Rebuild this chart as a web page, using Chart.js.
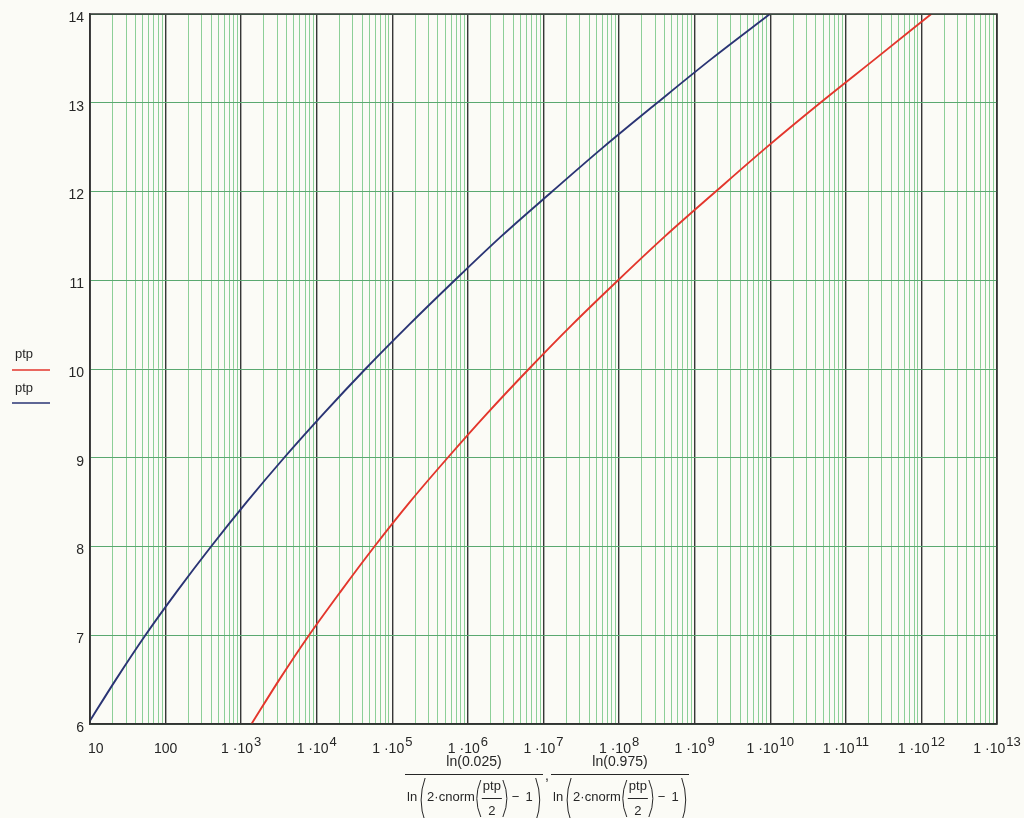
<!DOCTYPE html>
<html>
<head>
<meta charset="utf-8">
<script src="https://cdn.jsdelivr.net/npm/chart.js@4/dist/chart.umd.min.js"></script>
<style>
  html, body { margin: 0; padding: 0; background: #fbfbf6; }
  #wrap { width: 1024px; height: 818px; }
</style>
</head>
<body>
<div id="wrap"><canvas id="chart" width="1024" height="818"></canvas></div>
<script>
// ptp values (y) and the matching x values
const ptpValues = [6, 6.5, 7, 7.5, 8, 8.5, 9, 9.5, 10, 10.5, 11, 11.5, 12, 12.5, 13, 13.5, 14];
const blueX = [9.4, 22, 54, 143, 400, 1180, 3700, 12400, 44000, 1.67e5, 6.7e5, 2.8e6, 1.3e7, 6.2e7, 3.2e8, 1.7e9, 9.9e9];
const redX = [1370, 3200, 7900, 2.1e4, 5.8e4, 1.7e5, 5.4e5, 1.8e6, 6.4e6, 2.4e7, 9.7e7, 4.1e8, 1.9e9, 9.0e9, 4.6e10, 2.5e11, 1.35e12];

// axes
const xDecadeExponents = [1, 2, 3, 4, 5, 6, 7, 8, 9, 10, 11, 12, 13];
const xMinorMultiples = [2, 3, 4, 5, 6, 7, 8, 9];
const yTicks = [6, 7, 8, 9, 10, 11, 12, 13, 14];

const numerators = ['ln(0.025)', 'ln(0.975)'];
const legendLabels = ['ptp', 'ptp'];

const RED = '#e3362c';
const BLUE = '#2a3474';
const TEXT = '#262626';
const FONT = '"Liberation Sans", Arial, sans-serif';

const redPoints = ptpValues.map((y, i) => ({ x: redX[i], y }));
const bluePoints = ptpValues.map((y, i) => ({ x: blueX[i], y }));

const xGridValues = [];
xDecadeExponents.forEach((e, i) => {
    xGridValues.push(Math.pow(10, e));
    if (i < xDecadeExponents.length - 1) {
        xMinorMultiples.forEach(m => xGridValues.push(m * Math.pow(10, e)));
    }
});

const isDecade = v => {
    const l = Math.log10(v);
    return Math.abs(l - Math.round(l)) < 1e-6;
};

const paperPlugin = {
    id: 'paper',
    afterDraw(chart) {
        const { ctx, chartArea: a, scales: { x, y } } = chart;
        ctx.save();

        // frame
        ctx.strokeStyle = '#333';
        ctx.lineWidth = 1.5;
        ctx.strokeRect(a.left, a.top, a.right - a.left, a.bottom - a.top);

        ctx.fillStyle = TEXT;
        ctx.textBaseline = 'middle';

        // y tick labels
        ctx.font = '14px ' + FONT;
        ctx.textAlign = 'right';
        yTicks.forEach(v => ctx.fillText(String(v), a.left - 6, y.getPixelForValue(v) + 4));

        // x tick labels with superscripts
        xDecadeExponents.forEach(e => {
            const px = x.getPixelForValue(Math.pow(10, e));
            let base, sup = '';
            if (e === 1) base = '10';
            else if (e === 2) base = '100';
            else { base = '1 \u00b710'; sup = String(e); }
            ctx.font = '14px ' + FONT;
            const bw = ctx.measureText(base).width;
            ctx.font = '13px ' + FONT;
            const sw = sup ? ctx.measureText(sup).width + 1 : 0;
            let cx = px;
            if (cx - (bw + sw) / 2 < a.left - 2) cx = a.left - 2 + (bw + sw) / 2;
            const x0 = cx - (bw + sw) / 2;
            ctx.textAlign = 'left';
            ctx.font = '14px ' + FONT;
            ctx.fillText(base, x0, 749);
            if (sup) {
                ctx.font = '13px ' + FONT;
                ctx.fillText(sup, x0 + bw + 1, 742);
            }
        });

        // x axis title: two fractions
        drawFraction(ctx, 405, numerators[0]);
        ctx.font = '14px ' + FONT;
        ctx.textAlign = 'left';
        ctx.fillText(',', 545, 776);
        drawFraction(ctx, 551, numerators[1]);

        // legend at left
        ctx.font = '13px ' + FONT;
        ctx.textAlign = 'left';
        ctx.fillStyle = TEXT;
        ctx.fillText(legendLabels[0], 15, 354);
        ctx.fillText(legendLabels[1], 15, 388);
        ctx.lineWidth = 1.6;
        ctx.strokeStyle = RED;
        ctx.beginPath(); ctx.moveTo(12, 370); ctx.lineTo(50, 370); ctx.stroke();
        ctx.strokeStyle = BLUE;
        ctx.beginPath(); ctx.moveTo(12, 403); ctx.lineTo(50, 403); ctx.stroke();

        ctx.restore();
    }
};

function paren(ctx, x, top, bottom, side) {
    const mid = (top + bottom) / 2;
    ctx.beginPath();
    if (side === 'left') {
        ctx.moveTo(x + 5, top);
        ctx.quadraticCurveTo(x - 3, mid, x + 5, bottom);
    } else {
        ctx.moveTo(x, top);
        ctx.quadraticCurveTo(x + 8, mid, x, bottom);
    }
    ctx.stroke();
}

function drawFraction(ctx, x0, num) {
    const barW = 138;
    const yDen = 797;
    ctx.fillStyle = TEXT;
    ctx.strokeStyle = TEXT;
    ctx.lineWidth = 1;
    ctx.textBaseline = 'middle';

    ctx.font = '14px ' + FONT;
    ctx.textAlign = 'center';
    ctx.fillText(num, x0 + barW / 2, 762);

    ctx.beginPath(); ctx.moveTo(x0, 774.5); ctx.lineTo(x0 + barW, 774.5); ctx.stroke();

    ctx.font = '13px ' + FONT;
    ctx.textAlign = 'left';
    let x = x0 + 2;
    ctx.fillText('ln', x, yDen);
    x += ctx.measureText('ln').width + 3;
    paren(ctx, x, 778, 822, 'left');
    x += 7;
    ctx.fillText('2\u00b7cnorm', x, yDen);
    x += ctx.measureText('2\u00b7cnorm').width + 1;
    paren(ctx, x, 780, 817, 'left');
    x += 7;
    const pw = ctx.measureText('ptp').width;
    ctx.textAlign = 'center';
    ctx.fillText('ptp', x + pw / 2, 786);
    ctx.fillText('2', x + pw / 2, 811);
    ctx.beginPath(); ctx.moveTo(x - 1, 798.5); ctx.lineTo(x + pw + 1, 798.5); ctx.stroke();
    x += pw + 2;
    paren(ctx, x, 780, 817, 'right');
    x += 9;
    ctx.textAlign = 'left';
    ctx.fillText('\u2212', x, yDen);
    x += ctx.measureText('\u2212').width + 6;
    ctx.fillText('1', x, yDen);
    x += ctx.measureText('1').width + 3;
    paren(ctx, x, 778, 822, 'right');
}

new Chart(document.getElementById('chart'), {
    type: 'scatter',
    data: {
        datasets: [
            { label: legendLabels[0], data: redPoints, borderColor: RED, backgroundColor: RED,
              showLine: true, pointRadius: 0, borderWidth: 1.9, cubicInterpolationMode: 'monotone' },
            { label: legendLabels[1], data: bluePoints, borderColor: BLUE, backgroundColor: BLUE,
              showLine: true, pointRadius: 0, borderWidth: 1.9, cubicInterpolationMode: 'monotone' }
        ]
    },
    options: {
        responsive: false,
        animation: false,
        devicePixelRatio: 1,
        layout: { padding: { left: 90, top: 14, right: 27, bottom: 94 } },
        plugins: { legend: { display: false }, tooltip: { enabled: false } },
        scales: {
            x: {
                type: 'logarithmic',
                min: 10,
                max: 1e13,
                afterBuildTicks: s => { s.ticks = xGridValues.map(v => ({ value: v })); },
                ticks: { display: false },
                grid: {
                    drawTicks: false,
                    color: c => (c.tick && isDecade(c.tick.value)) ? '#363636' : '#8ccf97',
                    lineWidth: c => (c.tick && isDecade(c.tick.value)) ? 1.4 : 1
                },
                border: { color: '#333', width: 1.5 }
            },
            y: {
                type: 'linear',
                min: 6,
                max: 14,
                afterBuildTicks: s => { s.ticks = yTicks.map(v => ({ value: v })); },
                ticks: { display: false },
                grid: { drawTicks: false, color: '#5aa870', lineWidth: 1 },
                border: { color: '#333', width: 1.5 }
            }
        }
    },
    plugins: [paperPlugin]
});
</script>
</body>
</html>
